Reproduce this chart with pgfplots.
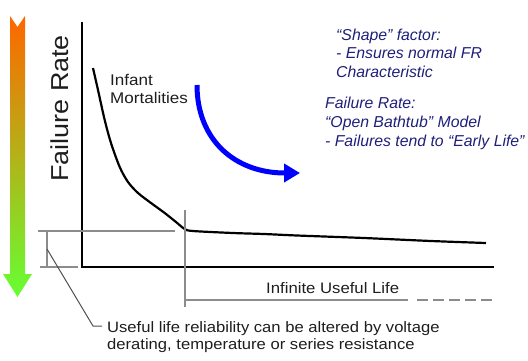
\documentclass[border=0pt]{standalone}
\usepackage{fontspec}
\setmainfont{Liberation Sans}
\newfontfamily\labfont[FakeStretch=1.1]{Liberation Sans}
\usepackage{pgfplots}
\pgfplotsset{compat=1.18}
\usetikzlibrary{arrows.meta}
\definecolor{navy}{HTML}{1F1F7A}
\definecolor{linegray}{HTML}{8C8C8C}
\definecolor{leadgray}{HTML}{505050}
\definecolor{txt}{HTML}{1E1E1E}
\definecolor{orangetop}{HTML}{FF6600}
\definecolor{midyel}{HTML}{D6A028}
\definecolor{greenbot}{HTML}{66FF33}
\begin{document}
\begin{tikzpicture}
\begin{axis}[
  width=528pt, height=360pt, scale only axis,
  xmin=0, xmax=528, ymin=0, ymax=360, y dir=reverse,
  hide axis, clip=false]
\path[draw=none] (axis cs:0,0) rectangle (axis cs:528,360);
% gradient arrow
\shade[top color=orangetop, middle color=midyel, bottom color=greenbot]
  (axis cs:10,16) -- (axis cs:17.5,27) -- (axis cs:25,16) -- (axis cs:25,274)
  -- (axis cs:32,274) -- (axis cs:17.5,297) -- (axis cs:3,274) -- (axis cs:10,274) -- cycle;
% axes
\draw[black, line width=2.5pt] (axis cs:82,22) -- (axis cs:82,267) -- (axis cs:494,267);
% curve
\addplot[black, line width=2.2pt, smooth, tension=0.5, mark=none] coordinates {
 (93,68) (98,90) (104.7,120) (111,143) (119.7,167) (128,182) (138,193) (151,203)
 (164.7,213) (176,222) (184.7,229) (193,231) (233,233) (264,234) (297,235.5) (364,238) (431,241) (486,243)};
% gray annotation lines
\draw[linegray, line width=1.1pt] (axis cs:38,231) -- (axis cs:175,231);
\draw[linegray, line width=1.1pt] (axis cs:40,267) -- (axis cs:78,267);
\draw[linegray, line width=1.1pt] (axis cs:47,231) -- (axis cs:47,267);
\draw[linegray, line width=1.1pt] (axis cs:185,210) -- (axis cs:185,307);
\draw[linegray, line width=1.4pt] (axis cs:185,300) -- (axis cs:408,300);
\draw[linegray, line width=1.4pt, dash pattern=on 11pt off 5pt] (axis cs:417,300) -- (axis cs:492,300);
\draw[leadgray, line width=1pt] (axis cs:47,249) -- (axis cs:93,326) -- (axis cs:102,326);
% blue arrow
\draw[blue, line width=5pt, -{Triangle[length=16pt,width=18pt]}]
  (axis cs:197,85) .. controls (axis cs:197,140) and (axis cs:235,173) .. (axis cs:300,173);
% texts
\node[rotate=90, anchor=base west, inner sep=0, txt] at (axis cs:68,182)
  {\labfont\fontsize{24.5}{28}\selectfont Failure Rate};
\node[anchor=base west, inner sep=0, txt] at (axis cs:110,85) {\labfont\fontsize{15.5}{18}\selectfont Infant};
\node[anchor=base west, inner sep=0, txt] at (axis cs:110,103) {\labfont\fontsize{15.5}{18}\selectfont Mortalities};
\node[anchor=base west, inner sep=0, txt] at (axis cs:266,293) {\labfont\fontsize{15.2}{18}\selectfont Infinite Useful Life};
\node[anchor=base west, inner sep=0, txt] at (axis cs:107,332) {\labfont\fontsize{15.1}{18}\selectfont Useful life reliability can be altered by voltage};
\node[anchor=base west, inner sep=0, txt] at (axis cs:107,349.5) {\labfont\fontsize{15.1}{18}\selectfont derating, temperature or series resistance};
\node[anchor=base west, inner sep=0, navy] at (axis cs:336,40) {\fontsize{15.8}{19}\selectfont\itshape “Shape” factor:};
\node[anchor=base west, inner sep=0, navy] at (axis cs:336,58) {\fontsize{15.8}{19}\selectfont\itshape - Ensures normal FR};
\node[anchor=base west, inner sep=0, navy] at (axis cs:336,77.5) {\fontsize{15.8}{19}\selectfont\itshape Characteristic};
\node[anchor=base west, inner sep=0, navy] at (axis cs:325,108.5) {\fontsize{15.8}{19}\selectfont\itshape Failure Rate:};
\node[anchor=base west, inner sep=0, navy] at (axis cs:325,127.5) {\fontsize{15.8}{19}\selectfont\itshape “Open Bathtub” Model};
\node[anchor=base west, inner sep=0, navy] at (axis cs:325,146.5) {\fontsize{15.8}{19}\selectfont\itshape - Failures tend to “Early Life”};
\end{axis}
\end{tikzpicture}
\end{document}
